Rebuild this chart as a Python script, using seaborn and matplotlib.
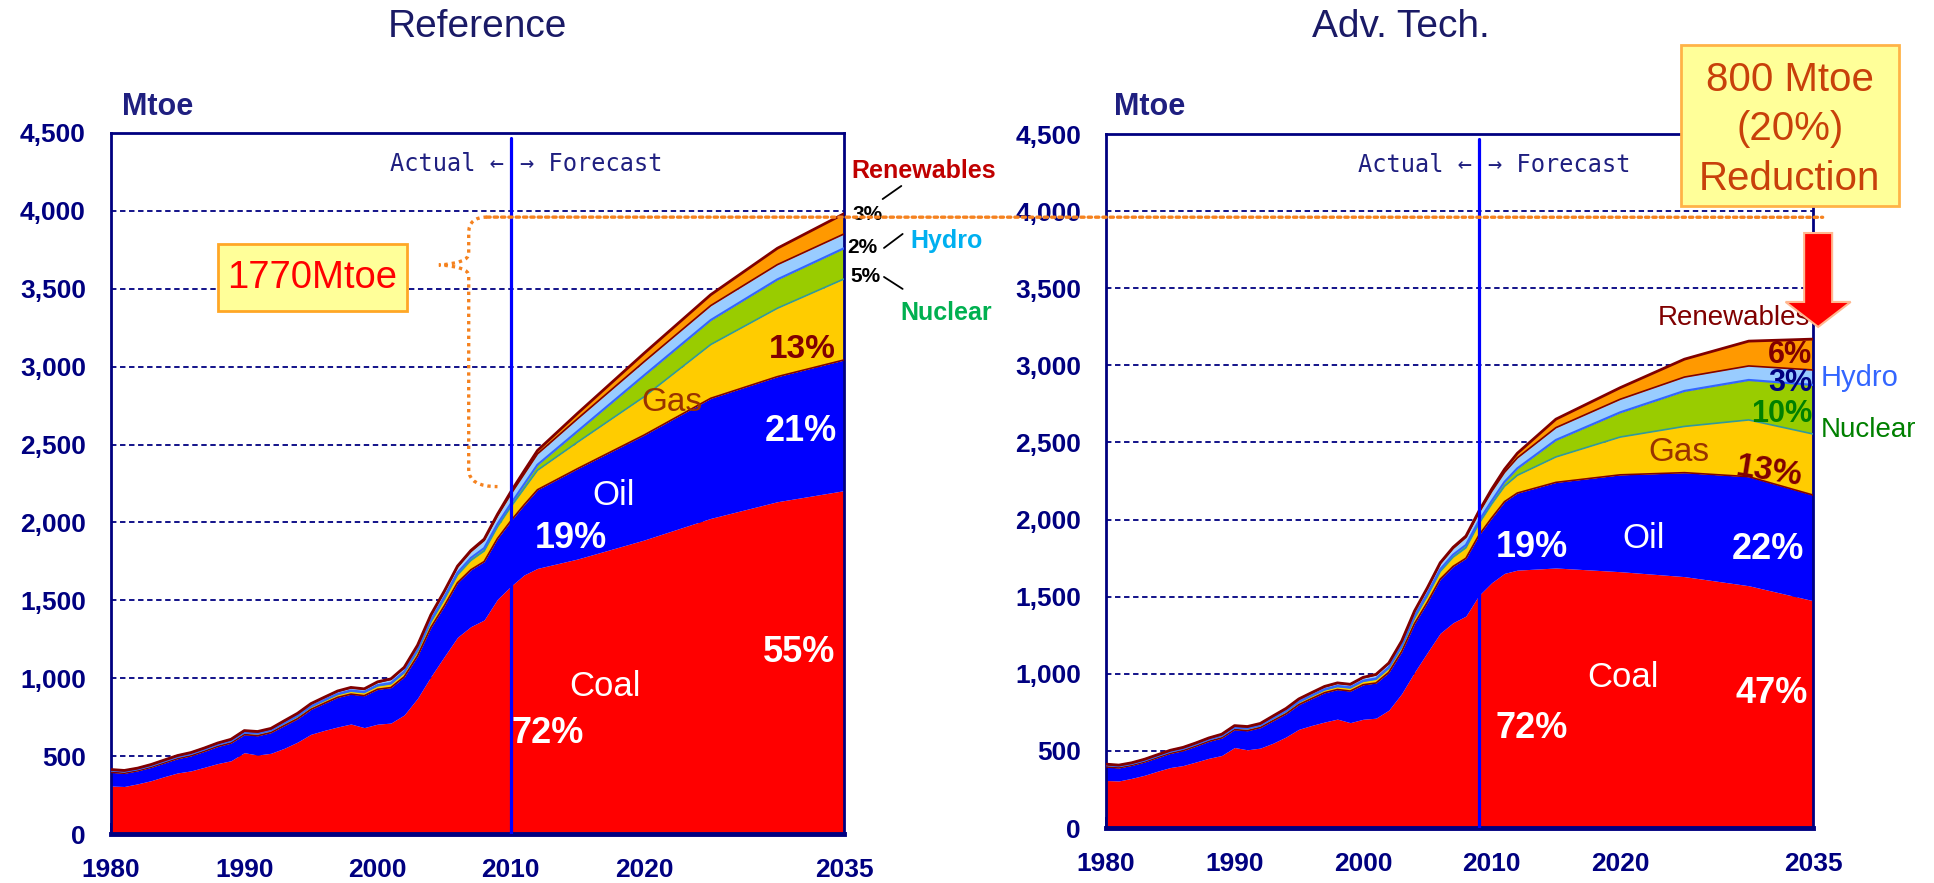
import matplotlib
matplotlib.use("Agg")
import numpy as np
import pandas as pd
import matplotlib.pyplot as plt
import seaborn as sns
from matplotlib.patches import Rectangle, FancyArrow, ConnectionPatch, PathPatch
from matplotlib.path import Path
from matplotlib.ticker import MultipleLocator

# %% ── Data (Mtoe) ──────────────────────────────────────────────────────────
hist_years = list(range(1980, 2010))
fc_years = [2010, 2011, 2012, 2015, 2020, 2025, 2030, 2035]

hist_coal = [308, 305, 322, 342, 368, 392, 405, 428, 452, 470, 522, 507, 518, 550, 590,
             640, 665, 687, 706, 683, 705, 712, 764, 871, 1010, 1138, 1263, 1331, 1374, 1507]
hist_oil = [88, 85, 84, 86, 88, 92, 97, 103, 110, 114, 116, 124, 133, 146, 150,
            160, 174, 190, 192, 205, 224, 228, 245, 272, 315, 325, 350, 365, 375, 390]
hist_gas = [12, 11, 10, 10, 11, 11, 12, 12, 12, 13, 13, 14, 14, 15, 15,
            16, 17, 18, 19, 20, 22, 24, 26, 30, 35, 42, 50, 60, 68, 75]
hist_nuclear = [0, 0, 0, 0, 0, 0, 0, 0, 0, 0, 0, 0, 0, 1, 4,
                3, 4, 4, 4, 4, 4, 5, 7, 11, 13, 14, 14, 16, 18, 18]
hist_hydro = [5, 6, 6, 7, 7, 8, 8, 8, 9, 10, 11, 11, 11, 13, 14,
              16, 16, 17, 18, 18, 19, 24, 25, 25, 30, 34, 37, 41, 50, 53]
hist_renew = [1, 1, 1, 1, 1, 1, 1, 1, 1, 1, 2, 2, 2, 2, 2,
              2, 2, 2, 2, 2, 3, 3, 3, 3, 4, 5, 6, 7, 8, 10]

# Reference scenario forecast
ref_coal = [1590, 1663, 1705, 1765, 1887, 2026, 2133, 2204]
ref_oil = [420, 450, 505, 580, 674, 771, 803, 839]
ref_gas = [90, 105, 125, 170, 246, 345, 439, 520]
ref_nuclear = [20, 27, 35, 70, 137, 157, 185, 197]
ref_hydro = [62, 66, 70, 80, 88, 93, 95, 92]
ref_renew = [15, 20, 22, 35, 54, 70, 105, 130]

# Advanced technology scenario forecast
adv_coal = [1590, 1651, 1672, 1686, 1662, 1630, 1571, 1474]
adv_oil = [420, 465, 500, 555, 628, 674, 707, 685]
adv_gas = [90, 100, 115, 165, 245, 300, 368, 396]
adv_nuclear = [20, 28, 45, 110, 160, 230, 259, 318]
adv_hydro = [62, 62, 68, 80, 85, 90, 91, 97]
adv_renew = [15, 20, 30, 55, 75, 116, 161, 200]

year_ticks = [1980, 1990, 2000, 2010, 2020, 2035]
value_ticks = list(range(0, 4501, 500))

FUELS = ["Coal", "Oil", "Gas", "Nuclear", "Hydro", "Renewables"]
FILL = {"Coal": "#FF0000", "Oil": "#0000FF", "Gas": "#FFCC00",
        "Nuclear": "#99CC00", "Hydro": "#99CCFF", "Renewables": "#FF9900"}
EDGE = {"Oil": ("#800000", 1.2), "Gas": ("#339999", 1.2), "Nuclear": ("#3366FF", 1.6),
        "Hydro": ("#800000", 1.2), "Renewables": ("#800000", 2.0)}

NAVY = "#000080"
TITLE_NAVY = "#1A1A66"
ORANGE_DOT = "#F5821F"


def build(fc_series):
    hist = [hist_coal, hist_oil, hist_gas, hist_nuclear, hist_hydro, hist_renew]
    df = pd.DataFrame({"year": hist_years + fc_years})
    for fuel, h, f in zip(FUELS, hist, fc_series):
        df[fuel] = h + f
    return df


ref_df = build([ref_coal, ref_oil, ref_gas, ref_nuclear, ref_hydro, ref_renew])
adv_df = build([adv_coal, adv_oil, adv_gas, adv_nuclear, adv_hydro, adv_renew])

# %% ── Style ────────────────────────────────────────────────────────────────
sns.set_theme(style="white")
plt.rcParams["font.family"] = ["Liberation Sans", "DejaVu Sans"]

W, H = 1934, 883
fig = plt.figure(figsize=(W / 100, H / 100), dpi=100)
ax1 = fig.add_axes([111 / W, 1 - 834 / H, 733 / W, 701 / H])
ax2 = fig.add_axes([1106 / W, 1 - 828 / H, 707 / W, 694 / H])


def draw_panel(ax, df, split_year):
    ax.stackplot(df["year"], *[df[f] for f in FUELS],
                 colors=[FILL[f] for f in FUELS], lw=0, zorder=1)
    tops = df[FUELS].cumsum(axis=1)
    for fuel, (color, lw) in EDGE.items():
        sns.lineplot(x=df["year"], y=tops[fuel], color=color, lw=lw, ax=ax, zorder=3)
    ax.set_xlabel("")
    ax.set_ylabel("")
    ax.set_xlim(1980, 2035)
    ax.set_ylim(0, 4500)

    ax.set_yticks(value_ticks)
    ax.set_yticklabels([f"{v:,}" for v in value_ticks], fontsize=19,
                       fontweight="bold", color=NAVY)
    ax.set_xticks(year_ticks)
    ax.set_xticklabels([str(y) for y in year_ticks], fontsize=19,
                       fontweight="bold", color=NAVY)
    ax.xaxis.set_minor_locator(MultipleLocator(1))
    ax.tick_params(axis="x", which="both", bottom=True, direction="in",
                   length=8, width=1.4, color=NAVY, pad=17)
    ax.tick_params(axis="y", left=False, length=0, pad=18)

    ax.grid(axis="y", ls=(0, (3, 2)), color=NAVY, lw=1.3)
    ax.grid(axis="x", visible=False)
    ax.set_axisbelow(True)
    for side, sp in ax.spines.items():
        sp.set_color(NAVY)
        sp.set_linewidth(2)
    ax.spines["bottom"].set_linewidth(3.5)

    ax.axvline(split_year, ymax=0.993, color="#0000FF", lw=2.3, zorder=4)
    ax.text(split_year - 0.5, 4300, "Actual ←", ha="right", va="center",
            fontsize=17, color="#1F1F80", family="DejaVu Sans Mono")
    ax.text(split_year + 0.7, 4300, "→ Forecast", ha="left", va="center",
            fontsize=17, color="#1F1F80", family="DejaVu Sans Mono")


draw_panel(ax1, ref_df, 2010)
draw_panel(ax2, adv_df, 2009)

# titles and unit labels
fig.text(477 / W, 1 - 27 / H, "Reference", ha="center", va="center",
         fontsize=28, color=TITLE_NAVY)
fig.text(1401 / W, 1 - 27 / H, "Adv. Tech.", ha="center", va="center",
         fontsize=28, color=TITLE_NAVY)
for xpix in (158, 1150):
    fig.text(xpix / W, 1 - 107 / H, "Mtoe", ha="center", va="center",
             fontsize=22, fontweight="bold", color="#1F1F80")


def label(ax, x, y, s, color="white", size=26, weight="bold", rot=0):
    ax.text(x, y, s, ha="center", va="center", fontsize=size, color=color,
            fontweight=weight, rotation=rot, zorder=7, clip_on=False)


# ── Reference panel labels ──
label(ax1, 2012.8, 648, "72%")
label(ax1, 2031.6, 1168, "55%")
label(ax1, 2017.1, 944, "Coal", size=25, weight="normal")
label(ax1, 2014.5, 1900, "19%")
label(ax1, 2017.7, 2170, "Oil", size=25, weight="normal")
label(ax1, 2031.8, 2587, "21%")
label(ax1, 2022.1, 2773, "Gas", color="#993300", size=24, weight="normal")
label(ax1, 2031.85, 3107, "13%", color="#800000", size=24)

label(ax1, 2041.0, 4256, "Renewables", color="#C00000", size=18)
label(ax1, 2036.8, 3974, "3%", color="black", size=15)
label(ax1, 2036.4, 3768, "2%", color="black", size=15)
label(ax1, 2036.6, 3576, "5%", color="black", size=15)
label(ax1, 2042.7, 3807, "Hydro", color="#00B0F0", size=18)
label(ax1, 2042.7, 3344, "Nuclear", color="#00B050", size=18)
for (x0, y0, x1, y1) in [(2037.9, 4076, 2039.3, 4160),
                         (2038.0, 3762, 2039.4, 3852),
                         (2038.0, 3576, 2039.4, 3499)]:
    ax1.plot([x0, x1], [y0, y1], color="black", lw=1.3, clip_on=False, zorder=7)

# 1770 Mtoe box and brace
ax1.add_patch(Rectangle((1988.0, 3357), 14.2, 430, fc="#FFFF99", ec="#FFA726",
                        lw=2, zorder=6))
label(ax1, 1995.1, 3572, "1770Mtoe", color="#FF0000", size=27.5, weight="normal")

BRACE_TOP, BRACE_BOTTOM, NUB_Y = 3960, 2230, 3653
bx = 2006.84
verts = [(2008.2, BRACE_TOP), (bx, BRACE_TOP), (bx, BRACE_TOP - 100),
         (bx, NUB_Y + 75),
         (bx, NUB_Y + 10), (2004.6, NUB_Y),
         (bx, NUB_Y - 10), (bx, NUB_Y - 70),
         (bx, BRACE_BOTTOM + 110),
         (bx, BRACE_BOTTOM), (2009.0, BRACE_BOTTOM)]
codes = [Path.MOVETO, Path.CURVE3, Path.CURVE3, Path.LINETO,
         Path.CURVE3, Path.CURVE3, Path.CURVE3, Path.CURVE3,
         Path.LINETO, Path.CURVE3, Path.CURVE3]
ax1.add_patch(PathPatch(Path(verts, codes), fill=False, ec=ORANGE_DOT, lw=2.4,
                        ls=(0, (1, 1.2)), zorder=5))
fig.add_artist(ConnectionPatch(xyA=(2008.2, BRACE_TOP), coordsA=ax1.transData,
                               xyB=(2035.75, BRACE_TOP), coordsB=ax2.transData,
                               color=ORANGE_DOT, lw=2.4, ls=(0, (1, 1.2)), zorder=8))

# ── Adv. Tech. panel labels ──
label(ax2, 2013.1, 642, "72%")
label(ax2, 2031.8, 875, "47%")
label(ax2, 2020.2, 973, "Coal", size=25, weight="normal")
label(ax2, 2013.1, 1816, "19%")
label(ax2, 2021.8, 1880, "Oil", size=25, weight="normal")
label(ax2, 2031.5, 1809, "22%")
label(ax2, 2024.6, 2438, "Gas", color="#993300", size=24, weight="normal")
label(ax2, 2031.6, 2308, "13%", color="#800000", size=24, rot=-9)
label(ax2, 2032.6, 2684, "10%", color="#008000", size=22)
label(ax2, 2033.2, 2885, "3%", color="#000080", size=22)
label(ax2, 2033.2, 3067, "6%", color="#800000", size=22)
label(ax2, 2028.85, 3307, "Renewables", color="#800000", size=20, weight="normal")
label(ax2, 2038.65, 2918, "Hydro", color="#3366FF", size=21, weight="normal")
label(ax2, 2039.3, 2581, "Nuclear", color="#008000", size=20, weight="normal")

# reduction box and arrow
ax2.add_patch(Rectangle((2024.7, 4033), 17.0, 1044, fc="#FFFF99", ec="#FFB347",
                        lw=2, zorder=6, clip_on=False))
ax2.text(2033.2, 4530, "800 Mtoe\n(20%)\nReduction", ha="center", va="center",
         fontsize=29, color="#C8400A", linespacing=1.38, zorder=7, clip_on=False)
ax2.add_patch(FancyArrow(2035.4, 3858, 0, -609, width=2.18, head_width=5.06,
                         head_length=162, length_includes_head=True,
                         fc="#FF0000", ec="#FFB890", lw=1.5, zorder=7, clip_on=False))

fig.savefig("out.png", dpi=100)
